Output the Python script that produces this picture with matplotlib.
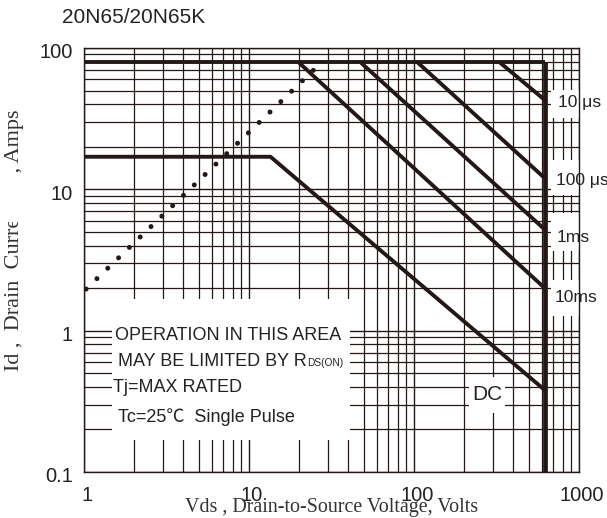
import matplotlib
matplotlib.use("Agg")
import matplotlib.pyplot as plt
import matplotlib.transforms as mtransforms
from matplotlib.patches import Rectangle
from matplotlib.ticker import FixedLocator, FixedFormatter, LogLocator, NullFormatter

plt.rcParams['font.family'] = ['Liberation Sans', 'DejaVu Sans', 'Noto Sans CJK SC']
plt.rcParams['lines.scale_dashes'] = False

# ---------------- data ----------------
title = "20N65/20N65K"
x_ticks = [1, 10, 100, 1000]
x_tick_labels = ["1", "10", "100", "1000"]
y_ticks = [0.1, 1, 10, 100]
y_tick_labels = ["0.1", "1", "10", "100"]

limit_v = [1, 620]          # pulsed current limit
limit_i = [80, 80]
us10_v = [327, 620]
us10_i = [80, 42.9]
us100_v = [104, 620]
us100_i = [80, 12.0]
ms1_v = [47, 620]
ms1_i = [80, 5.2]
ms10_v = [19.8, 620]
ms10_i = [80, 2.0]
dc_v = [1, 13.5, 620]
dc_i = [17, 17, 0.38]
vmax_v = [620, 620]         # BVdss limit
vmax_i = [0.1, 80]
rds_v = [1.03, 25]          # Rds(on) limit (dotted)
rds_i = [1.97, 71]

curve_labels = ["10 \u03bcs", "100 \u03bcs", "1ms", "10ms"]
note_lines = ["OPERATION IN THIS AREA", "MAY BE LIMITED BY R", "Tj=MAX RATED",
              "Tc=25\u2103  Single Pulse"]
x_label = "Vds , Drain-to-Source Voltage, Volts"
y_label = "Id ,  Drain  Current     , Amps"

# ---------------- figure ----------------
W, H = 607, 518
fig = plt.figure(figsize=(W / 100, H / 100), dpi=100)
ax = fig.add_axes([84 / W, (H - 472) / H, 495 / W, 424 / H])

def fx(x):
    return x / W

def fy(y):
    return 1 - y / H

ink = '#231815'
ax.set_xscale('log')
ax.set_yscale('log')
ax.set_xlim(1, 1000)
ax.set_ylim(0.1, 100)

ax.xaxis.set_major_locator(FixedLocator(x_ticks))
ax.xaxis.set_major_formatter(FixedFormatter(x_tick_labels))
ax.yaxis.set_major_locator(FixedLocator(y_ticks))
ax.yaxis.set_major_formatter(FixedFormatter(y_tick_labels))
for axis in (ax.xaxis, ax.yaxis):
    axis.set_minor_locator(LogLocator(base=10, subs=range(2, 10)))
    axis.set_minor_formatter(NullFormatter())

ax.set_axisbelow(True)
ax.grid(which='major', color=ink, lw=1.0)
ax.grid(which='minor', color=ink, lw=0.9)
for s in ax.spines.values():
    s.set_color(ink)
    s.set_linewidth(1.0)

ax.tick_params(which='both', length=0)
ax.tick_params(axis='x', pad=10, labelsize=14.5, colors='#222222')
ax.tick_params(axis='y', pad=8, labelsize=14.5, colors='#222222')
for t in ax.yaxis.get_major_ticks():
    t.label1.set_transform(t.label1.get_transform() +
                           mtransforms.ScaledTranslation(0, -3 / 100, fig.dpi_scale_trans))
for t in ax.xaxis.get_major_ticks():
    t.label1.set_transform(t.label1.get_transform() +
                           mtransforms.ScaledTranslation(3 / 100, 0, fig.dpi_scale_trans))

# SOA curves
lw = 2.8
for vv, ii in [(limit_v, limit_i), (us10_v, us10_i), (us100_v, us100_i),
               (ms1_v, ms1_i), (ms10_v, ms10_i), (dc_v, dc_i)]:
    ax.plot(vv, ii, color=ink, lw=lw, solid_capstyle='butt', zorder=3)
ax.plot(vmax_v, vmax_i, color=ink, lw=3.4, solid_capstyle='butt', zorder=3)
ax.plot(rds_v, rds_i, color=ink, lw=3.6, linestyle=(0, (0.01, 10.8)),
        dash_capstyle='round', zorder=3)

# white label boxes (pixel rectangles)
def white_box(x0, y0, x1, y1):
    ax.add_patch(Rectangle((fx(x0), fy(y1)), fx(x1) - fx(x0), fy(y0) - fy(y1),
                           transform=fig.transFigure, facecolor='white',
                           edgecolor='none', clip_on=False, zorder=1.5))

white_box(112, 299, 350, 440)
white_box(469, 377, 505, 413)
white_box(551, 90, 607, 118)
white_box(551, 160, 607, 195)
white_box(551, 213, 607, 251)
white_box(551, 280, 607, 316)

# curve labels on the right
for lab, x, y in zip(curve_labels, [558, 556, 557, 555], [103, 180, 237, 298]):
    fig.text(fx(x), fy(y), lab, fontsize=12.6, ha='left', va='center',
             color='#222222', zorder=4)
fig.text(fx(487), fy(395), "DC", fontsize=15, ha='center', va='center',
         color='#222222', zorder=4)

# note block
nx = [115, 118, 113, 118]
ny = [335, 362, 388, 417]
texts = []
for s, x, y in zip(note_lines, nx, ny):
    t = fig.text(fx(x), fy(y), s, fontsize=13, ha='left', va='center',
                 color='#222222', zorder=4,
                 family=['Liberation Sans', 'Noto Sans CJK SC'])
    texts.append(t)
ax.annotate("DS(ON)", xy=(1, 0.12), xycoords=texts[1], fontsize=7.3,
            ha='left', va='bottom', color='#222222', annotation_clip=False)

# title
fig.text(fx(62), fy(17.5), title, fontsize=15, ha='left', va='center', color='#222222')

# axis labels (serif)
ax.set_xlabel(x_label, family='Liberation Serif', fontsize=14.4, color='#333333')
ax.xaxis.label.set_va('baseline')
ax.xaxis.set_label_coords(0.5, (472 - 512) / 424)
ax.set_ylabel(y_label, family='Liberation Serif', fontsize=16, color='#333333')
ax.yaxis.label.set_va('center')
ax.yaxis.set_label_coords((15 - 84) / 495, (472 - 240) / 424)

# white patch over part of the y label (as in the reference scan)
white_box(5, 175, 29, 222)

fig.savefig("out.png", dpi=100)
